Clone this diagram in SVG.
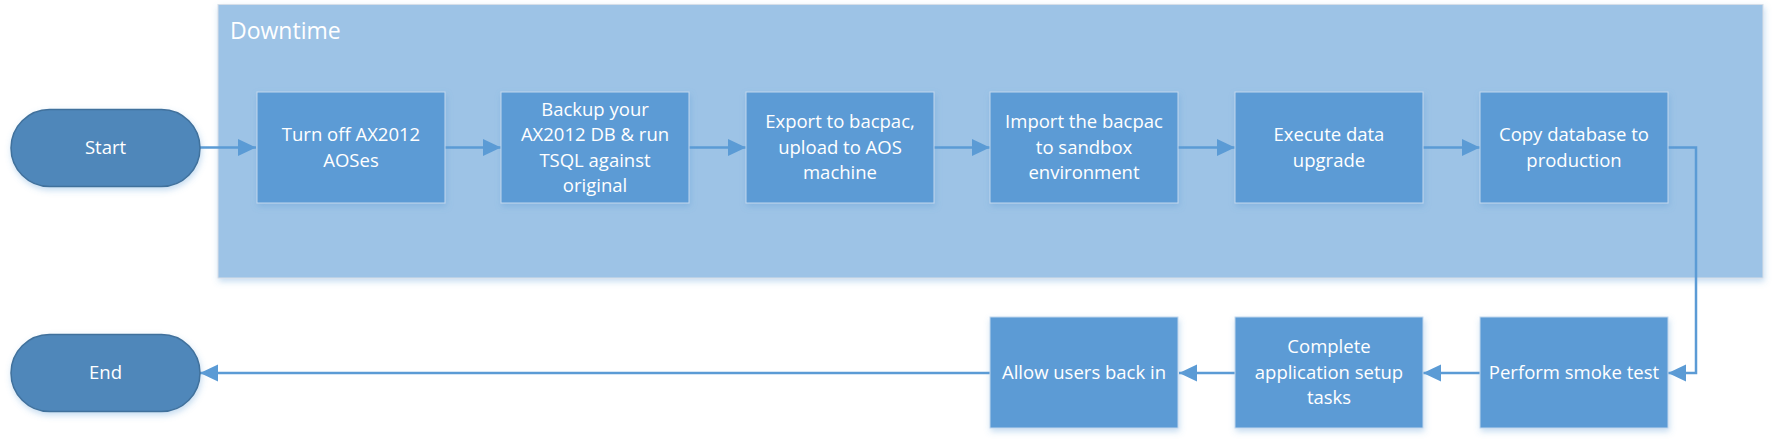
<svg xmlns="http://www.w3.org/2000/svg" width="1775" height="444" viewBox="0 0 1775 444">
<style>
.lbl{font-family:"Open Sans","Noto Sans","Liberation Sans",sans-serif;font-size:18.5px;fill:#FFFFFF;text-anchor:middle}
.box{fill:#5B9BD5;stroke:#C2D7EE;stroke-width:1}
.pill{fill:#4F87BA;stroke:#41719C;stroke-width:1.5}
.con{fill:none;stroke:#5B9BD5;stroke-width:2.5}
</style>
<defs>
<filter id="sh" x="-10%" y="-10%" width="125%" height="130%">
<feDropShadow dx="1" dy="3" stdDeviation="3" flood-color="#5B9BD5" flood-opacity="0.35"/>
</filter>
<marker id="arr" markerUnits="userSpaceOnUse" markerWidth="18" markerHeight="18" refX="18" refY="9" orient="auto">
<path d="M0,0.5 L18,9 L0,17.5 z" fill="#5B9BD5"/>
</marker>
</defs>
<rect width="1775" height="444" fill="#FFFFFF"/>
<g id="downtime">
<rect x="218" y="4.5" width="1545" height="273.5" fill="#9DC3E6" stroke="#D6DEE8" stroke-width="1" filter="url(#sh)"/>
<text x="230" y="39" style="font-family:'Open Sans','Noto Sans','Liberation Sans',sans-serif;font-size:23px;fill:#FFFFFF">Downtime</text>
</g>
<g id="connectors">
<path class="con" d="M200,147.5 H256" marker-end="url(#arr)"/>
<path class="con" d="M445,147.5 H501" marker-end="url(#arr)"/>
<path class="con" d="M689,147.5 H746" marker-end="url(#arr)"/>
<path class="con" d="M934,147.5 H990" marker-end="url(#arr)"/>
<path class="con" d="M1178,147.5 H1235" marker-end="url(#arr)"/>
<path class="con" d="M1423,147.5 H1480" marker-end="url(#arr)"/>
<path class="con" d="M1668,147.5 H1696 V373 H1668" marker-end="url(#arr)"/>
<path class="con" d="M1480,373 H1423" marker-end="url(#arr)"/>
<path class="con" d="M1235,373 H1179" marker-end="url(#arr)"/>
<path class="con" d="M990,373 H200" marker-end="url(#arr)"/>
</g>
<g id="start">
<rect class="pill" x="11" y="109.5" width="189" height="77" rx="38.5" filter="url(#sh)"/>
<text class="lbl" x="105.5" y="153.8">Start</text>
</g>
<g id="end">
<rect class="pill" x="11" y="334.5" width="189" height="77" rx="38.5" filter="url(#sh)"/>
<text class="lbl" x="105.5" y="379">End</text>
</g>
<g id="turn-off">
<rect class="box" x="257" y="92" width="188" height="111" filter="url(#sh)"/>
<text class="lbl" x="351" y="141">Turn off AX2012</text>
<text class="lbl" x="351" y="166.5">AOSes</text>
</g>
<g id="backup">
<rect class="box" x="501" y="92" width="188" height="111" filter="url(#sh)"/>
<text class="lbl" x="595" y="115.5">Backup your</text>
<text class="lbl" x="595" y="141">AX2012 DB &amp; run</text>
<text class="lbl" x="595" y="166.5">TSQL against</text>
<text class="lbl" x="595" y="192">original</text>
</g>
<g id="export">
<rect class="box" x="746" y="92" width="188" height="111" filter="url(#sh)"/>
<text class="lbl" x="840" y="128.3">Export to bacpac,</text>
<text class="lbl" x="840" y="153.8">upload to AOS</text>
<text class="lbl" x="840" y="179.3">machine</text>
</g>
<g id="import">
<rect class="box" x="990" y="92" width="188" height="111" filter="url(#sh)"/>
<text class="lbl" x="1084" y="128.3">Import the bacpac</text>
<text class="lbl" x="1084" y="153.8">to sandbox</text>
<text class="lbl" x="1084" y="179.3">environment</text>
</g>
<g id="execute">
<rect class="box" x="1235" y="92" width="188" height="111" filter="url(#sh)"/>
<text class="lbl" x="1329" y="141">Execute data</text>
<text class="lbl" x="1329" y="166.5">upgrade</text>
</g>
<g id="copy">
<rect class="box" x="1480" y="92" width="188" height="111" filter="url(#sh)"/>
<text class="lbl" x="1574" y="141">Copy database to</text>
<text class="lbl" x="1574" y="166.5">production</text>
</g>
<g id="smoke">
<rect class="box" x="1480" y="317" width="188" height="111" filter="url(#sh)"/>
<text class="lbl" x="1574" y="379">Perform smoke test</text>
</g>
<g id="setup">
<rect class="box" x="1235" y="317" width="188" height="111" filter="url(#sh)"/>
<text class="lbl" x="1329" y="353.3">Complete</text>
<text class="lbl" x="1329" y="378.8">application setup</text>
<text class="lbl" x="1329" y="404.3">tasks</text>
</g>
<g id="allow">
<rect class="box" x="990" y="317" width="188" height="111" filter="url(#sh)"/>
<text class="lbl" x="1084" y="379">Allow users back in</text>
</g>
</svg>
